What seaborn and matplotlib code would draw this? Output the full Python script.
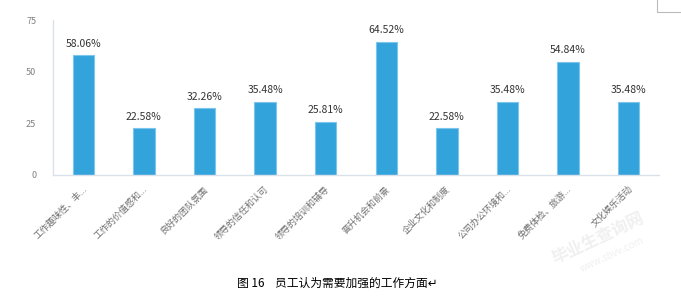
import matplotlib
matplotlib.use("Agg")
import matplotlib.pyplot as plt
import seaborn as sns
import pandas as pd
from matplotlib.patches import Rectangle

categories = ["工作趣味性、丰...", "工作的价值感和...", "良好的团队氛围", "领导的信任和认可",
              "领导的培训和辅导", "晋升机会和前景", "企业文化和制度", "公司办公环境和...",
              "免费体检、旅游...", "文化娱乐活动"]
values = [58.06, 22.58, 32.26, 35.48, 25.81, 64.52, 22.58, 35.48, 54.84, 35.48]
yticks = [0, 25, 50, 75]
caption = "图 16    员工认为需要加强的工作方面↵"

sns.set_theme(style="white")
plt.rcParams['font.family'] = ['Noto Sans CJK SC', 'DejaVu Sans']

df = pd.DataFrame({"cat": categories, "val": values})
fig = plt.figure(figsize=(6.81, 2.99), dpi=100)
ax = fig.add_axes([53/681, 1-175/299, (659-53)/681, (175-20)/299])
sns.barplot(data=df, x="cat", y="val", color="#33A3DC", width=0.35, ax=ax,
            edgecolor="#7CC6EE", linewidth=0.8, saturation=1)
ax.set_ylim(0, 75)
ax.set_xlim(-0.5, len(categories) - 0.5)
ax.set_yticks(yticks)
ax.set_yticklabels([str(t) for t in yticks], fontsize=6.5, color="#808080")
ax.set_xlabel("")
ax.set_ylabel("")
ax.tick_params(axis="y", length=0, pad=12)
ax.set_xticks([i - 0.5 for i in range(len(categories) + 1)], minor=False)
ax.set_xticklabels([])
ax.tick_params(axis="x", length=7, width=0.8, color="#D9E1EA", direction="out")
for i, c in enumerate(categories):
    ax.text(i - 0.02, -4.5, c, rotation=45, ha="right", va="top", fontsize=6.5,
            color="#707070", transform=ax.transData, clip_on=False,
            rotation_mode="anchor")
for s in ["top", "right"]:
    ax.spines[s].set_visible(False)
for s in ["left", "bottom"]:
    ax.spines[s].set_color("#D9E1EA")
    ax.spines[s].set_linewidth(1.0)
for i, v in enumerate(values):
    ax.text(i, v + 3, f"{v:.2f}%", ha="center", va="bottom", fontsize=7.5,
            color="#333333")
fig.text(337/681, 1-283/299, caption, ha="center", va="center", fontsize=8.5,
         color="#000000")
fig.text(598/681, 1-238/299, "毕业生查询网", rotation=25, ha="center", va="center",
         fontsize=12, color="#F0F0F0", fontweight="bold")
fig.text(612/681, 1-255/299, "www.sbvv.com", rotation=25, ha="center", va="center",
         fontsize=7, color="#F0F0F0")
fig.patches.append(Rectangle((657/681, 1-12/299), 30/681, 14/299, transform=fig.transFigure,
                             fill=False, edgecolor="#BBBBBB", linewidth=0.8))
fig.savefig("out.png", dpi=100)
